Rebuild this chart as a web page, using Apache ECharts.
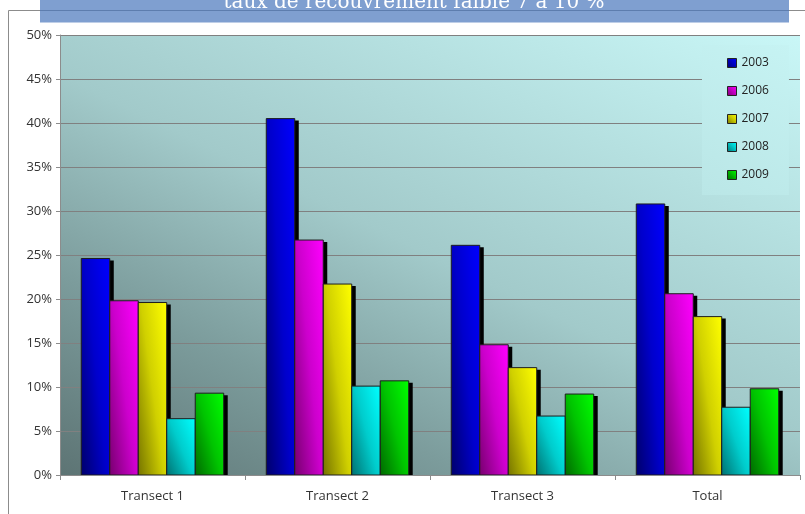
<!DOCTYPE html>
<html>
<head>
<meta charset="utf-8">
<script src="https://cdn.jsdelivr.net/npm/echarts@6/dist/echarts.min.js"></script>
<style>
  html, body { margin: 0; padding: 0; background: #ffffff; }
  #chart { width: 805px; height: 514px; }
</style>
</head>
<body>
<div id="chart"></div>
<script>
// Cover rate per transect and year (percent)
const categories = ['Transect 1', 'Transect 2', 'Transect 3', 'Total'];
const years = ['2003', '2006', '2007', '2008', '2009'];
const values2003 = [24.6, 40.5, 26.1, 30.8];
const values2006 = [19.8, 26.7, 14.8, 20.6];
const values2007 = [19.6, 21.7, 12.2, 18.0];
const values2008 = [6.4, 10.1, 6.7, 7.7];
const values2009 = [9.3, 10.7, 9.2, 9.8];
const yMax = 50;
const yStep = 5;
const titleText = 'taux de recouvrement faible 7 à 10 %';

const seriesValues = [values2003, values2006, values2007, values2008, values2009];
// dark / mid / bright shades for each year
const shades = [
  ['#00006c', '#0000cc', '#0000ff'],
  ['#78006f', '#cc00cc', '#ff00ff'],
  ['#767400', '#d0d000', '#ffff00'],
  ['#007272', '#00cccc', '#00ffff'],
  ['#006a00', '#00c400', '#00ff00']
];

const W = 805, H = 514;
const GRID = { left: 60, right: 5, top: 35, bottom: 39 };
const GROUP_FILL = 0.77;      // share of each category band covered by its bars
const SHADOW_DX = 4, SHADOW_DY = 2;

// Diagonal shading in pixel space: dark lower-left corner, bright upper-right corner
function barFill(sh, x, yBottom, w, h) {
  const a = 0.55, b = 0.45;
  h = Math.max(h, 1);
  const D = 1 / (a * a / (w * w) + b * b / (h * h));
  return new echarts.graphic.LinearGradient(
    x, yBottom, x + a * D / w, yBottom - b * D / h,
    [
      { offset: 0, color: sh[0] },
      { offset: 0.5, color: sh[1] },
      { offset: 1, color: sh[2] }
    ],
    true
  );
}

function iconFill(sh) {
  return new echarts.graphic.LinearGradient(0, 1, 1, 0, [
    { offset: 0, color: sh[0] },
    { offset: 0.6, color: sh[1] },
    { offset: 1, color: sh[2] }
  ]);
}

// Bar with a hard black drop shadow and a thin dark outline
function makeRenderItem(seriesIdx) {
  return function (params, api) {
    const cat = api.value(0);
    const val = api.value(1);
    const base = api.coord([cat, 0]);
    const top = api.coord([cat, val]);
    const band = api.size([1, 0])[0];
    const barW = band * GROUP_FILL / years.length;
    const x = base[0] - barW * years.length / 2 + seriesIdx * barW;
    const h = base[1] - top[1];
    return {
      type: 'group',
      children: [
        {
          type: 'rect',
          shape: { x: x + SHADOW_DX, y: top[1] + SHADOW_DY, width: barW, height: Math.max(h - SHADOW_DY, 0) },
          style: { fill: '#000000' }
        },
        {
          type: 'rect',
          shape: { x: x, y: top[1], width: barW, height: h },
          style: {
            fill: barFill(shades[seriesIdx], x, base[1], barW, h),
            stroke: '#1e1e1e',
            lineWidth: 1
          }
        }
      ]
    };
  };
}

const plotBackground = new echarts.graphic.LinearGradient(0, 1, 0.425, -0.47, [
  { offset: 0, color: '#5d7474' },
  { offset: 0.25, color: '#7c9c9c' },
  { offset: 0.5, color: '#a2caca' },
  { offset: 1, color: '#c9f7f7' }
]);

const chart = echarts.init(document.getElementById('chart'), null, { renderer: 'canvas', width: W, height: H });

const font = "'Open Sans', 'Liberation Sans', sans-serif";

chart.setOption({
  animation: false,
  backgroundColor: '#ffffff',
  grid: {
    left: GRID.left, right: GRID.right, top: GRID.top, bottom: GRID.bottom,
    show: true, backgroundColor: plotBackground, borderWidth: 0
  },
  graphic: [
    {
      type: 'rect', z: 0, silent: true,
      shape: { x: 8.5, y: 10.5, width: 820, height: 520 },
      style: { fill: 'none', stroke: '#8c8c8c', lineWidth: 1 }
    },
    {
      type: 'rect', z: 100, silent: true,
      shape: { x: 40, y: 0, width: 749, height: 22.5 },
      style: { fill: 'rgba(72,118,188,0.7)' }
    },
    {
      type: 'text', z: 101, silent: true,
      x: 414, y: 12.5,
      style: {
        text: titleText, fill: '#ffffff',
        font: "20px 'DejaVu Serif', 'Liberation Serif', serif",
        textAlign: 'center', textVerticalAlign: 'bottom'
      }
    }
  ],
  legend: {
    orient: 'vertical',
    left: 702, top: 45,
    padding: [12, 20, 14, 25],
    itemWidth: 9, itemHeight: 9, itemGap: 16,
    backgroundColor: new echarts.graphic.LinearGradient(0, 1, 1, 0, [
      { offset: 0, color: '#bae6e6' },
      { offset: 1, color: '#c6f3f3' }
    ]),
    textStyle: { fontSize: 12, color: '#222222', fontFamily: font },
    icon: 'rect',
    data: years.map((y, i) => ({
      name: y,
      itemStyle: { color: iconFill(shades[i]), borderColor: '#222222', borderWidth: 1 }
    }))
  },
  xAxis: {
    type: 'category',
    data: categories,
    axisLine: { show: true, lineStyle: { color: '#8c8c8c', width: 1 } },
    axisTick: { show: true, alignWithLabel: false, length: 5, lineStyle: { color: '#8c8c8c' } },
    axisLabel: { fontSize: 13, color: '#333333', fontFamily: font, margin: 15 },
    splitLine: { show: false }
  },
  yAxis: {
    type: 'value',
    min: 0, max: yMax, interval: yStep,
    axisLine: { show: true, lineStyle: { color: '#8c8c8c', width: 1 } },
    axisTick: { show: true, length: 4, lineStyle: { color: '#8c8c8c' } },
    axisLabel: { formatter: '{value}%', fontSize: 13, color: '#333333', fontFamily: font, margin: 8 },
    splitLine: { show: true, lineStyle: { color: '#808080', width: 1 } }
  },
  series: years.map((y, i) => ({
    name: y,
    type: 'custom',
    clip: true,
    renderItem: makeRenderItem(i),
    encode: { x: 0, y: 1 },
    itemStyle: { color: shades[i][2] },
    data: seriesValues[i].map((v, j) => [j, v])
  }))
});
</script>
</body>
</html>
